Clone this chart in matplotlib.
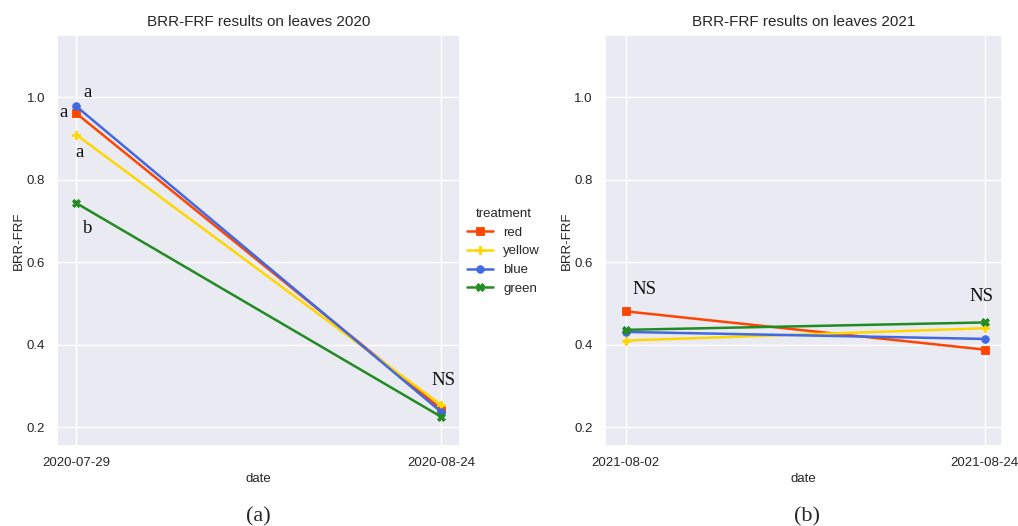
import matplotlib
matplotlib.use("Agg")
import matplotlib.pyplot as plt
import seaborn as sns
import pandas as pd

sns.set_theme(style="darkgrid")
plt.rcParams["font.family"] = ["Liberation Sans", "DejaVu Sans"]

treatments = ["red", "yellow", "blue", "green"]
colors = {"red": "#FF4500", "yellow": "#FFD700", "blue": "#4169E1", "green": "#228B22"}
markers = {"red": "s", "yellow": "P", "blue": "o", "green": "X"}

dates_2020 = ["2020-07-29", "2020-08-24"]
values_2020 = {
    "red": [0.962, 0.244],
    "yellow": [0.910, 0.254],
    "blue": [0.979, 0.237],
    "green": [0.744, 0.225],
}

dates_2021 = ["2021-08-02", "2021-08-24"]
values_2021 = {
    "red": [0.481, 0.388],
    "yellow": [0.410, 0.440],
    "blue": [0.431, 0.414],
    "green": [0.436, 0.454],
}

# significance letters: (treatment, date index, text, pixel offset)
letters_2020 = [
    ("blue", 0, "a", (12, 14)),
    ("red", 0, "a", (-12, 1)),
    ("yellow", 0, "a", (4, -18)),
    ("green", 0, "b", (12, -26)),
    ("yellow", 1, "NS", (2, 24)),
]
letters_2021 = [
    ("red", 0, "NS", (19, 22)),
    ("green", 1, "NS", (-3, 26)),
]

fig = plt.figure(figsize=(10.18, 5.26), dpi=100)
fig.patch.set_facecolor("white")
ax1 = fig.add_axes([0.056, 0.152, 0.396, 0.781])
ax2 = fig.add_axes([0.594, 0.152, 0.390, 0.781])

serif = ["Liberation Serif", "DejaVu Serif"]


def draw(ax, dates, values, letters, title, margins):
    x = pd.to_datetime(dates)
    handles = []
    for t in treatments:
        (h,) = ax.plot(x, values[t], color=colors[t], marker=markers[t],
                       markersize=5.5, linewidth=1.8, label=t,
                       markeredgecolor=colors[t], markeredgewidth=0.6)
        handles.append(h)
    for t, i, txt, off in letters:
        ax.annotate(txt, (x[i], values[t][i]), xytext=off,
                    textcoords="offset pixels", ha="center", va="center",
                    fontsize=13.5, family=serif, color="#111111")
    ax.set_xticks(x)
    ax.set_xticklabels([d for d in dates])
    span = x[1] - x[0]
    ax.set_xlim(x[0] - span * margins[0], x[1] + span * margins[1])
    ax.set_ylim(0.154, 1.151)
    ax.set_yticks([0.2, 0.4, 0.6, 0.8, 1.0])
    ax.set_yticklabels(["0.2", "0.4", "0.6", "0.8", "1.0"])
    ax.tick_params(axis="x", labelsize=9.5, pad=2)
    ax.tick_params(axis="y", labelsize=9.5, pad=2.5)
    ax.set_xlabel("date", fontsize=9.5, labelpad=3)
    ax.set_ylabel("BRR-FRF", fontsize=9.5, labelpad=1)
    ax.set_title(title, fontsize=11, pad=7)
    return handles


handles = draw(ax1, dates_2020, values_2020, letters_2020,
               "BRR-FRF results on leaves 2020", (0.052, 0.052))
draw(ax2, dates_2021, values_2021, letters_2021,
     "BRR-FRF results on leaves 2021", (0.058, 0.047))

leg = fig.legend(handles=handles, labels=treatments, title="treatment",
                 loc="center left", bbox_to_anchor=(0.447, 0.522),
                 frameon=False, fontsize=9.5, title_fontsize=9.5,
                 handlelength=2.0, handletextpad=0.75, labelspacing=0.5)

fig.text(0.2535, 0.017, "(a)", ha="center", va="center", fontsize=16, family=serif)
fig.text(0.793, 0.017, "(b)", ha="center", va="center", fontsize=16, family=serif)

fig.savefig("out.png", dpi=100, facecolor="white")
